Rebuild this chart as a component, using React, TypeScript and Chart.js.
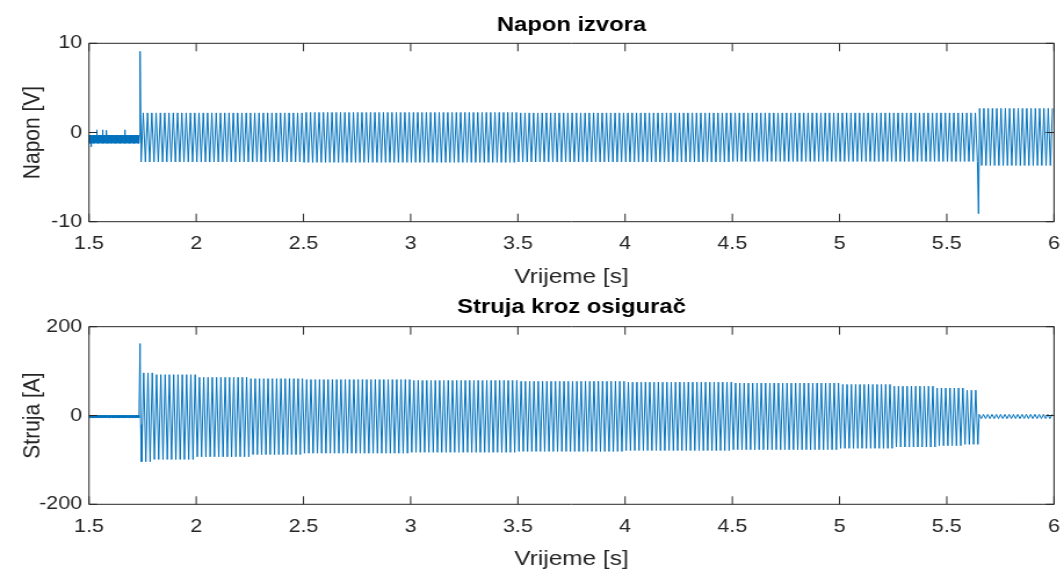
import React, { useEffect, useRef } from "react";
import { Chart, registerables } from "chart.js";

Chart.register(...registerables);

// ---------------- values ----------------
const X_TICKS = [1.5, 2, 2.5, 3, 3.5, 4, 4.5, 5, 5.5, 6];
const V_TICKS = [-10, 0, 10];
const I_TICKS = [-200, 0, 200];

const MAINS_HZ = 50; // ~4.3 px per cycle counted in the picture
const SWITCH_ON_S = 1.738;
const FUSE_BLOW_S = 5.648;

// Napon izvora
const V_PRE_BAND = [-0.3, -1.2];
const V_PRE_SPIKE_T = [1.512, 1.536, 1.565, 1.582, 1.668];
const V_PRE_SPIKE_V = [-1.6, 0.3, 0.3, 0.25, 0.3];
const V_SWITCH_SPIKE = 9.1;
const V_BLOW_SPIKE = -9.1;
const V_SEG_T = [1.738, 2.5, 3.5, 4.5, 5.648, 6.0];
const V_SEG_HIGH = [2.2, 2.25, 2.2, 2.2, 2.7];
const V_SEG_LOW = [-3.3, -3.35, -3.3, -3.25, -3.7];

// Struja kroz osigurač
const I_PRE_BAND = [0.5, -5];
const I_SWITCH_SPIKE = 162;
const I_SWITCH_DIP = -20;
const I_SEG_T = [1.738, 1.8, 2.0, 2.25, 2.5, 3.0, 3.5, 4.0, 4.5, 5.0, 5.25, 5.45, 5.58, 5.648];
const I_SEG_HIGH = [96, 92, 86, 83, 81, 79, 77, 75, 73, 70, 66, 62, 57];
const I_SEG_LOW = [-104, -99, -93, -88, -85, -83, -81, -79, -77, -74, -71, -68, -65];
const I_POST_BAND = [2.5, -7];

// ---------------- styling / layout ----------------
const CANVAS_W = 917; // drawn narrower, then stretched to 1064 like the reference
const SCREEN_W = 1064;
const S = SCREEN_W / CANVAS_W;
const PLOT_LEFT = 89 / S;
const PLOT_RIGHT = 1054 / S;
const FONT = "'Liberation Sans', Arial, Helvetica, sans-serif";
const LINE_COLOR = "rgb(0,114,189)";
const AXIS_TEXT = "#262626";
const FRAME_COLOR = "#262626";
const X_TICK_LEN = 8;
const Y_TICK_LEN = 7;

type P = { x: number; y: number };
const HALF = 1 / (2 * MAINS_HZ);

function band(t0: number, t1: number, step: number, hl: number[]): P[] {
  const out: P[] = [];
  let k = 0;
  for (let t = t0; t < t1; t += step, k++) out.push({ x: t, y: hl[k % 2] });
  return out;
}

function peaks(segT: number[], hi: number[], lo: number[], t0: number, t1: number): P[] {
  const out: P[] = [];
  let k = 0;
  for (let t = t0; t < t1; t += HALF, k++) {
    let i = 0;
    while (i < hi.length - 1 && t >= segT[i + 1]) i++;
    out.push({ x: t, y: k % 2 === 0 ? lo[i] : hi[i] });
  }
  return out;
}

const V_POINTS: P[] = [
  ...band(1.5, SWITCH_ON_S - 0.002, 0.0012, V_PRE_BAND),
  ...V_PRE_SPIKE_T.map((t, i) => ({ x: t, y: V_PRE_SPIKE_V[i] })),
  { x: SWITCH_ON_S, y: V_SWITCH_SPIKE },
  ...peaks(V_SEG_T, V_SEG_HIGH, V_SEG_LOW, SWITCH_ON_S + HALF / 2, 6.0001),
  { x: FUSE_BLOW_S, y: V_BLOW_SPIKE },
].sort((a, b) => a.x - b.x);

const I_POINTS: P[] = [
  ...band(1.5, SWITCH_ON_S - 0.002, 0.002, I_PRE_BAND),
  { x: SWITCH_ON_S, y: I_SWITCH_SPIKE },
  { x: SWITCH_ON_S + 0.003, y: I_SWITCH_DIP },
  ...peaks(I_SEG_T, I_SEG_HIGH, I_SEG_LOW, SWITCH_ON_S + HALF * 0.7, FUSE_BLOW_S),
  ...band(FUSE_BLOW_S + 0.003, 6.0001, HALF, I_POST_BAND),
].sort((a, b) => a.x - b.x);

const framePlugin = {
  id: "matlabFrame",
  afterDatasetsDraw(chart: any) {
    const { ctx, chartArea: a } = chart;
    const xs = chart.scales.x;
    const ys = chart.scales.y;
    ctx.save();
    ctx.strokeStyle = FRAME_COLOR;
    ctx.lineWidth = 1;
    ctx.beginPath();
    ctx.rect(a.left, a.top, a.right - a.left, a.bottom - a.top);
    for (const v of X_TICKS) {
      const px = xs.getPixelForValue(v);
      ctx.moveTo(px, a.bottom);
      ctx.lineTo(px, a.bottom - X_TICK_LEN);
      ctx.moveTo(px, a.top);
      ctx.lineTo(px, a.top + X_TICK_LEN);
    }
    for (const t of ys.ticks) {
      const py = ys.getPixelForValue(t.value);
      ctx.moveTo(a.left, py);
      ctx.lineTo(a.left + Y_TICK_LEN, py);
      ctx.moveTo(a.right, py);
      ctx.lineTo(a.right - Y_TICK_LEN, py);
    }
    ctx.stroke();
    ctx.restore();
  },
};

function makeConfig(o: {
  points: P[];
  yTicks: number[];
  yTitle: string;
  title: string;
  titlePad: { top: number; bottom: number };
  xAxisHeight: number;
  tickPad: number;
}): any {
  return {
    type: "line",
    data: {
      datasets: [
        {
          data: o.points,
          borderColor: LINE_COLOR,
          borderWidth: 1,
          pointRadius: 0,
          tension: 0,
          fill: false,
        },
      ],
    },
    options: {
      responsive: false,
      maintainAspectRatio: false,
      animation: false,
      devicePixelRatio: 1,
      layout: { padding: { left: 0, right: CANVAS_W - PLOT_RIGHT, top: 0, bottom: 0 } },
      plugins: {
        legend: { display: false },
        tooltip: { enabled: false },
        title: {
          display: true,
          text: o.title,
          fullSize: false,
          color: "#000",
          font: { family: FONT, size: 20.5, weight: "bold", lineHeight: 1.2 },
          padding: o.titlePad,
        },
      },
      scales: {
        x: {
          type: "linear",
          min: 1.5,
          max: 6,
          grid: { display: false, drawTicks: false },
          border: { display: false },
          afterBuildTicks: (ax: any) => {
            ax.ticks = X_TICKS.map((v) => ({ value: v }));
          },
          afterFit: (ax: any) => {
            ax.height = o.xAxisHeight;
            ax.paddingLeft = 0;
            ax.paddingRight = 0;
          },
          ticks: {
            autoSkip: false,
            maxRotation: 0,
            minRotation: 0,
            padding: o.tickPad,
            color: AXIS_TEXT,
            font: { family: FONT, size: 18.5 },
            callback: (v: number) => String(v),
          },
          title: {
            display: true,
            text: "Vrijeme [s]",
            color: AXIS_TEXT,
            font: { family: FONT, size: 21, lineHeight: 1.2 },
            padding: { top: 0, bottom: 0 },
          },
        },
        y: {
          type: "linear",
          min: o.yTicks[0],
          max: o.yTicks[o.yTicks.length - 1],
          grid: { display: false, drawTicks: false },
          border: { display: false },
          afterBuildTicks: (ax: any) => {
            ax.ticks = o.yTicks.map((v) => ({ value: v }));
          },
          afterFit: (ax: any) => {
            ax.width = PLOT_LEFT;
            ax.paddingTop = 0;
            ax.paddingBottom = 0;
          },
          ticks: {
            padding: 6,
            color: AXIS_TEXT,
            font: { family: FONT, size: 18.5 },
            callback: (v: number) => String(v),
          },
          title: {
            display: true,
            text: o.yTitle,
            color: AXIS_TEXT,
            font: { family: FONT, size: 21, lineHeight: 1.2 },
            padding: { top: 16.1, bottom: 0 },
          },
        },
      },
    },
    plugins: [framePlugin],
  };
}

const TOP_H = 290;
const BOT_H = 282;

export default function App() {
  const topRef = useRef<HTMLCanvasElement>(null);
  const botRef = useRef<HTMLCanvasElement>(null);

  useEffect(() => {
    const c1 = new Chart(
      topRef.current!,
      makeConfig({
        points: V_POINTS,
        yTicks: V_TICKS,
        yTitle: "Napon [V]",
        title: "Napon izvora",
        titlePad: { top: 12.7, bottom: 6 },
        xAxisHeight: TOP_H - 221.7,
        tickPad: 11,
      })
    );
    const c2 = new Chart(
      botRef.current!,
      makeConfig({
        points: I_POINTS,
        yTicks: I_TICKS,
        yTitle: "Struja [A]",
        title: "Struja kroz osigurač",
        titlePad: { top: 4.7, bottom: 7.4 },
        xAxisHeight: BOT_H - (504.3 - TOP_H),
        tickPad: 11.5,
      })
    );
    return () => {
      c1.destroy();
      c2.destroy();
    };
  }, []);

  return (
    <div
      style={{
        position: "fixed",
        left: 0,
        top: 0,
        width: SCREEN_W,
        height: TOP_H + BOT_H,
        background: "#fff",
      }}
    >
      <canvas
        ref={topRef}
        width={CANVAS_W}
        height={TOP_H}
        style={{ position: "absolute", left: 0, top: 0, width: SCREEN_W, height: TOP_H }}
      />
      <canvas
        ref={botRef}
        width={CANVAS_W}
        height={BOT_H}
        style={{ position: "absolute", left: 0, top: TOP_H, width: SCREEN_W, height: BOT_H }}
      />
    </div>
  );
}
